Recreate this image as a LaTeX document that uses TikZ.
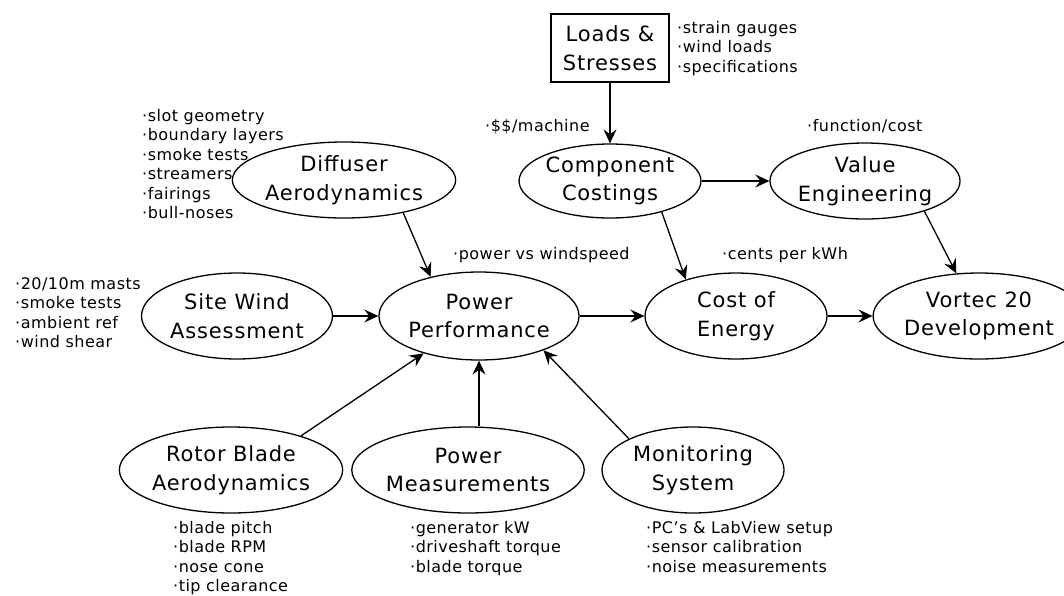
\documentclass[tikz,border=0pt]{standalone}
\usepackage{fontspec}
\setmainfont{DejaVu Sans}
\newfontfamily\blobfont[LetterSpace=4]{DejaVu Sans}
\newfontfamily\notefont[LetterSpace=3]{DejaVu Sans}
\usetikzlibrary{arrows.meta, shapes.geometric}

\begin{document}
\begin{tikzpicture}[x=1pt, y=-1pt,
		every edge/.style = {draw=black, line width=1.3pt,
			-{Stealth[length=14pt, width=13pt, inset=5pt]}},
		blob/.style args = {#1/#2}{%
			ellipse, draw, line width=1.3pt, inner sep=0pt, align=center,
			minimum width=#1pt, minimum height=#2pt,
			font=\blobfont\fontsize{21}{28.5}\selectfont},
		crate/.style = {rectangle, draw, line width=1.3pt, inner sep=0pt,
			align=center, minimum width=118pt, minimum height=68pt,
			font=\blobfont\fontsize{21}{28.5}\selectfont},
		notes/.style = {anchor=north west, inner sep=0pt, align=left,
			font=\notefont\fontsize{16}{19.5}\selectfont}
	]
		\useasboundingbox (0,0) rectangle (1064,595);

		% top row
		\node(loads) [crate] at (610, 48) {Loads \&\\Stresses};
		\node(diff) [blob=193/76] at (344, 180) {Diffuser\\Aerodynamics};
		\node(comp) [blob=181/74] at (610, 181) {Component\\Costings};
		\node(value) [blob=181/76] at (865, 181) {Value\\Engineering};

		% middle row
		\node(site) [blob=191/86] at (237, 316) {Site Wind\\Assessment};
		\node(pp) [blob=182/88] at (479, 316) {Power\\Performance};
		\node(coe) [blob=182/86] at (736, 316) {Cost of\\Energy};
		\node(vortec) [blob=170/86] at (979, 316) {Vortec 20\\Development};

		% bottom row
		\node(rotor) [blob=203/86] at (231, 470) {Rotor Blade\\Aerodynamics};
		\node(pm) [blob=203/86] at (468, 470) {Power\\Measurements};
		\node(mon) [blob=182/86] at (693, 470) {Monitoring\\System};

		% notes
		\node(nloads) [notes] at (677, 21) {·strain gauges\\·wind loads\\·specifications};
		\node(ndiff) [notes] at (142, 109) {·slot geometry\\·boundary layers\\·smoke tests\\·streamers\\·fairings\\·bull-noses};
		\node(ncomp) [notes] at (485, 119) {·\$\$/machine};
		\node(nvalue) [notes] at (807, 119) {·function/cost};
		\node(npp) [notes] at (453, 247) {·power vs windspeed};
		\node(ncoe) [notes] at (722, 247) {·cents per kWh};
		\node(nsite) [notes] at (15, 277) {·20/10m masts\\·smoke tests\\·ambient ref\\·wind shear};
		\node(nrotor) [notes] at (173, 521) {·blade pitch\\·blade RPM\\·nose cone\\·tip clearance};
		\node(npm) [notes] at (410, 521) {·generator kW\\·driveshaft torque\\·blade torque};
		\node(nmon) [notes] at (646, 521) {·PC’s \& LabView setup\\·sensor calibration\\·noise measurements};

		\path (loads) edge (comp)
			(comp) edge (value)
			(comp.-31) edge (coe.144)
			(value.-27) edge (vortec.118)
			(diff.-29) edge (pp.141)
			(site) edge (pp)
			(pp) edge (coe)
			(coe) edge (vortec)
			(rotor.26) edge (pp.214)
			(pm.north -| pp.south) edge (pp.south)
			(mon.154) edge (pp.-28);
	\end{tikzpicture}
\end{document}
